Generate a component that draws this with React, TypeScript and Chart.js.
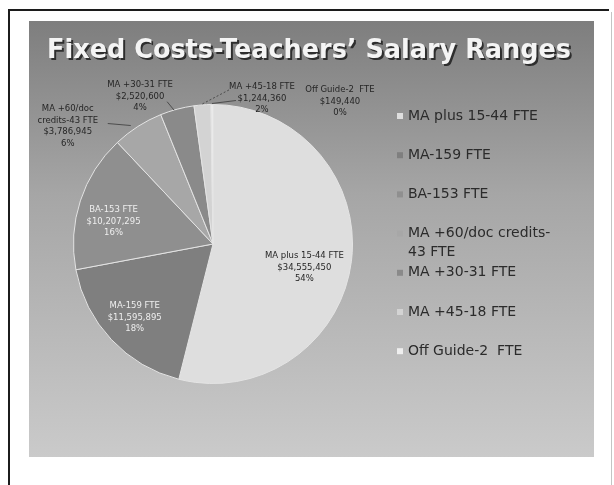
import React, { useEffect, useRef } from "react";
import { Chart, ArcElement, PieController } from "chart.js";

Chart.register(ArcElement, PieController);

const titleText = "Fixed Costs-Teachers’ Salary Ranges";
const categories = [
  "MA plus 15-44 FTE",
  "MA-159 FTE",
  "BA-153 FTE",
  "MA +60/doc credits-43 FTE",
  "MA +30-31 FTE",
  "MA +45-18 FTE",
  "Off Guide-2  FTE",
];
const salaryTotals = [34555450, 11595895, 10207295, 3786945, 2520600, 1244360, 149440];
const legendLines = [
  ["MA plus 15-44 FTE"],
  ["MA-159 FTE"],
  ["BA-153 FTE"],
  ["MA +60/doc credits-", "43 FTE"],
  ["MA +30-31 FTE"],
  ["MA +45-18 FTE"],
  ["Off Guide-2  FTE"],
];
const sliceLabelLines = [
  ["MA plus 15-44 FTE"],
  ["MA-159 FTE"],
  ["BA-153 FTE"],
  ["MA +60/doc", "credits-43 FTE"],
  ["MA +30-31 FTE"],
  ["MA +45-18 FTE"],
  ["Off Guide-2  FTE"],
];

// styling
const sliceColors = ["#dedede", "#7f7f7f", "#8f8f8f", "#a7a7a7", "#8a8a8a", "#d3d3d3", "#efefef"];
const labelPlacement = [
  { r: 0.66, dx: 0, dy: 12, color: "#262626" },
  { r: 0.77, dx: 0, dy: 0, color: "#eeeeee" },
  { r: 0.75, dx: 0, dy: 10, color: "#eeeeee" },
  { r: 1, dx: -70, dy: 0, color: "#262626", lead: [[-7, -1], [40, -3]], dash: false, fromEdge: true },
  { r: 1, dx: -37, dy: -12.5, color: "#262626", lead: [[-3, 1], [27, 5]], dash: false, fromEdge: true },
  { r: 1, dx: 59.5, dy: -6.5, color: "#262626", lead: [[0, -1], [-32, -9]], dash: true, fromEdge: true },
  { r: 1, dx: 128, dy: -3, color: "#262626", lead: [[0, -1], [-104, -1]], dash: false, fromEdge: true },
];

const fmtMoney = (v: number) => "$" + v.toLocaleString("en-US");

const slidePlugin = {
  id: "slide",
  beforeDraw(chart: any) {
    const ctx: CanvasRenderingContext2D = chart.ctx;
    ctx.save();
    ctx.fillStyle = "#ffffff";
    ctx.fillRect(0, 0, chart.width, chart.height);
    // page frame
    ctx.strokeStyle = "#1c1c1c";
    ctx.lineWidth = 2;
    ctx.beginPath();
    ctx.moveTo(9, 485);
    ctx.lineTo(9, 10);
    ctx.lineTo(609, 10);
    ctx.stroke();
    ctx.strokeStyle = "#c4c4c4";
    ctx.lineWidth = 1;
    ctx.beginPath();
    ctx.moveTo(611.5, 12);
    ctx.lineTo(611.5, 485);
    ctx.stroke();
    // slide background
    const g = ctx.createLinearGradient(0, 21, 0, 457);
    g.addColorStop(0, "#7e7e7e");
    g.addColorStop(0.4, "#a6a6a6");
    g.addColorStop(1, "#cacaca");
    ctx.fillStyle = g;
    ctx.fillRect(29, 21, 565, 436);
    // title
    ctx.font = "bold 26px 'DejaVu Sans'";
    const w = ctx.measureText(titleText).width;
    const sx = 524 / w;
    ctx.translate(309, 58);
    ctx.scale(sx, 1);
    ctx.textAlign = "center";
    ctx.textBaseline = "alphabetic";
    ctx.fillStyle = "#2e2e2e";
    ctx.fillText(titleText, 2, 2);
    ctx.fillStyle = "#f4f4f4";
    ctx.fillText(titleText, 0, 0);
    ctx.restore();
  },
  afterDatasetsDraw(chart: any) {
    const ctx: CanvasRenderingContext2D = chart.ctx;
    const meta = chart.getDatasetMeta(0);
    const data: number[] = chart.data.datasets[0].data;
    const total = data.reduce((a, b) => a + b, 0);
    ctx.save();
    // slice labels
    meta.data.forEach((arc: any, i: number) => {
      const p = arc.getProps(["x", "y", "startAngle", "endAngle", "outerRadius"], true);
      const mid = (p.startAngle + p.endAngle) / 2;
      const pl = labelPlacement[i];
      const ex = p.x + Math.cos(mid) * p.outerRadius;
      const ey = p.y + Math.sin(mid) * p.outerRadius;
      const cx = p.x + Math.cos(mid) * p.outerRadius * pl.r + pl.dx;
      const cy = p.y + Math.sin(mid) * p.outerRadius * pl.r + pl.dy;
      if (pl.lead) {
        ctx.strokeStyle = "#3a3a3a";
        ctx.lineWidth = 0.8;
        ctx.setLineDash(pl.dash ? [2, 2] : []);
        ctx.beginPath();
        ctx.moveTo(ex + pl.lead[0][0], ey + pl.lead[0][1]);
        ctx.lineTo(cx + pl.lead[1][0], cy + pl.lead[1][1]);
        ctx.stroke();
        ctx.setLineDash([]);
      }
      const pct = Math.round((data[i] / total) * 100) + "%";
      const lines = [...sliceLabelLines[i], fmtMoney(data[i]), pct];
      const lh = 11.5;
      ctx.font = "8.5px 'DejaVu Sans'";
      ctx.textAlign = "center";
      ctx.textBaseline = "middle";
      ctx.fillStyle = pl.color;
      const y0 = cy - ((lines.length - 1) * lh) / 2;
      lines.forEach((t, k) => ctx.fillText(t, cx, y0 + k * lh));
    });
    // legend
    const colors: string[] = chart.data.datasets[0].backgroundColor;
    ctx.font = "14px 'DejaVu Sans'";
    ctx.textAlign = "left";
    ctx.textBaseline = "middle";
    legendLines.forEach((lines, i) => {
      const y = 116 + i * 39.2;
      ctx.fillStyle = colors[i];
      ctx.fillRect(397, y - 3, 6, 6);
      ctx.fillStyle = "#2b2b2b";
      lines.forEach((t, k) => ctx.fillText(t, 408, y + k * 19));
    });
    ctx.restore();
  },
};

export default function App() {
  const ref = useRef<HTMLCanvasElement>(null);
  useEffect(() => {
    const chart = new Chart(ref.current as HTMLCanvasElement, {
      type: "pie",
      data: {
        labels: categories,
        datasets: [
          {
            data: salaryTotals,
            backgroundColor: sliceColors,
            borderColor: "#e4e4e4",
            borderWidth: 1,
          },
        ],
      },
      options: {
        responsive: false,
        maintainAspectRatio: false,
        devicePixelRatio: 1,
        animation: false,
        events: [],
        layout: { padding: { left: 73, right: 261, top: 104, bottom: 101 } },
        plugins: { legend: { display: false }, tooltip: { enabled: false } },
      },
      plugins: [slidePlugin],
    });
    return () => chart.destroy();
  }, []);
  return (
    <div style={{ position: "absolute", left: 0, top: 0, width: 614, height: 485 }}>
      <canvas ref={ref} width={614} height={485} style={{ display: "block" }} />
    </div>
  );
}
